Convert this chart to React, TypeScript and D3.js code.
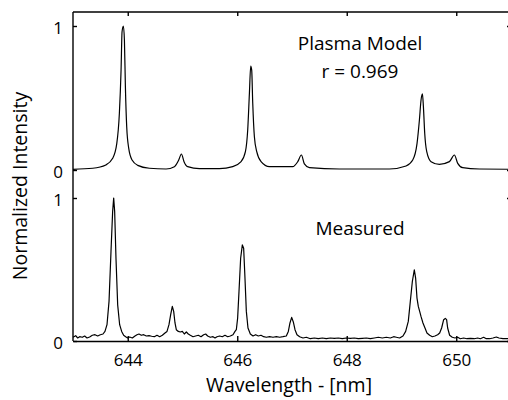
import React, { useEffect, useRef } from 'react';
import * as d3 from 'd3';

// plasma model spectrum (wavelength nm, normalized intensity)
const modelWl = [
  643.0, 643.36, 643.6, 643.725, 643.8, 643.847, 643.878, 643.896, 643.92, 643.939,
  643.957, 643.981, 644.018, 644.079, 644.182, 644.395, 644.7, 644.852, 644.931, 644.98,
  645.028, 645.095, 645.309, 645.674, 645.917, 646.07, 646.149, 646.191, 646.222, 646.246,
  646.264, 646.283, 646.313, 646.356, 646.435, 646.587, 647.013, 647.105, 647.172, 647.226,
  647.318, 647.866, 648.779, 649.083, 649.205, 649.284, 649.327, 649.357, 649.382, 649.4,
  649.424, 649.461, 649.54, 649.692, 649.875, 649.966, 650.027, 650.118, 650.423, 651.0,
];
const modelI = [
  0.005, 0.012, 0.035, 0.081, 0.185, 0.394, 0.694, 0.96, 1.0, 0.903,
  0.579, 0.3, 0.15, 0.069, 0.032, 0.012, 0.007, 0.023, 0.069, 0.111,
  0.058, 0.023, 0.009, 0.009, 0.023, 0.058, 0.127, 0.278, 0.532, 0.722,
  0.694, 0.463, 0.231, 0.127, 0.058, 0.023, 0.023, 0.058, 0.104, 0.042,
  0.016, 0.007, 0.007, 0.028, 0.069, 0.185, 0.347, 0.486, 0.528, 0.44,
  0.255, 0.127, 0.058, 0.039, 0.058, 0.104, 0.046, 0.016, 0.007, 0.005,
];

// measured spectrum
const measWl = [
  643.0, 643.049, 643.085, 643.122, 643.17, 643.213, 643.256, 643.304, 643.353, 643.402,
  643.451, 643.499, 643.548, 643.584, 643.621, 643.658, 643.694, 643.724, 643.743, 643.761,
  643.785, 643.816, 643.852, 643.889, 643.925, 643.962, 643.998, 644.035, 644.084, 644.132,
  644.169, 644.205, 644.248, 644.291, 644.339, 644.388, 644.437, 644.486, 644.534, 644.583,
  644.632, 644.68, 644.717, 644.753, 644.784, 644.814, 644.839, 644.863, 644.887, 644.924,
  644.96, 644.997, 645.033, 645.07, 645.106, 645.143, 645.192, 645.24, 645.289, 645.338,
  645.386, 645.423, 645.46, 645.508, 645.557, 645.594, 645.63, 645.679, 645.727, 645.776,
  645.825, 645.873, 645.922, 645.959, 645.983, 646.007, 646.032, 646.062, 646.093, 646.117,
  646.141, 646.166, 646.196, 646.239, 646.288, 646.336, 646.385, 646.434, 646.482, 646.531,
  646.592, 646.653, 646.714, 646.775, 646.835, 646.896, 646.933, 646.963, 646.994, 647.024,
  647.055, 647.091, 647.14, 647.201, 647.262, 647.335, 647.408, 647.481, 647.554, 647.627,
  647.7, 647.773, 647.846, 647.919, 647.992, 648.065, 648.138, 648.211, 648.284, 648.357,
  648.431, 648.504, 648.577, 648.65, 648.723, 648.796, 648.857, 648.905, 648.966, 649.027,
  649.076, 649.124, 649.161, 649.198, 649.234, 649.258, 649.283, 649.307, 649.332, 649.356,
  649.392, 649.429, 649.465, 649.514, 649.563, 649.611, 649.66, 649.697, 649.733, 649.77,
  649.8, 649.824, 649.843, 649.879, 649.928, 649.976, 650.026, 650.074, 650.135, 650.196,
  650.257, 650.33, 650.391, 650.44, 650.5, 650.549, 650.61, 650.671, 650.732, 650.78,
  650.853, 650.945,
];
const measI = [
  0.026, 0.037, 0.021, 0.03, 0.026, 0.035, 0.021, 0.028, 0.04, 0.044,
  0.035, 0.044, 0.049, 0.067, 0.114, 0.277, 0.626, 0.905, 1.0, 0.905,
  0.579, 0.253, 0.114, 0.067, 0.04, 0.03, 0.021, 0.028, 0.021, 0.035,
  0.044, 0.049, 0.04, 0.044, 0.035, 0.037, 0.033, 0.03, 0.04, 0.03,
  0.04, 0.056, 0.067, 0.114, 0.184, 0.242, 0.207, 0.126, 0.079, 0.067,
  0.063, 0.067, 0.049, 0.063, 0.049, 0.04, 0.03, 0.035, 0.04, 0.03,
  0.044, 0.049, 0.035, 0.026, 0.03, 0.021, 0.03, 0.035, 0.03, 0.04,
  0.03, 0.035, 0.044, 0.067, 0.079, 0.16, 0.347, 0.579, 0.672, 0.649,
  0.44, 0.207, 0.091, 0.049, 0.035, 0.044, 0.035, 0.04, 0.03, 0.026,
  0.03, 0.026, 0.03, 0.026, 0.03, 0.035, 0.067, 0.126, 0.165, 0.133,
  0.079, 0.044, 0.03, 0.021, 0.026, 0.016, 0.021, 0.016, 0.021, 0.016,
  0.021, 0.019, 0.021, 0.016, 0.021, 0.019, 0.021, 0.016, 0.019, 0.021,
  0.016, 0.021, 0.026, 0.021, 0.026, 0.021, 0.03, 0.026, 0.021, 0.035,
  0.067, 0.137, 0.277, 0.416, 0.498, 0.44, 0.3, 0.242, 0.207, 0.172,
  0.126, 0.091, 0.056, 0.04, 0.03, 0.035, 0.044, 0.056, 0.091, 0.149,
  0.158, 0.149, 0.091, 0.04, 0.026, 0.021, 0.026, 0.016, 0.021, 0.016,
  0.019, 0.016, 0.021, 0.016, 0.026, 0.016, 0.016, 0.021, 0.028, 0.021,
  0.016, 0.016,
];

const xTicks = [644, 646, 648, 650];
const yTicks = [0, 1];
const font = '"Open Sans", sans-serif';

const SpectraChart = () => {
  const svgRef = useRef(null);

  useEffect(() => {
    if (!svgRef.current) return;
    const svg = d3.select(svgRef.current);
    svg.selectAll('*').remove();

    const left = 73, right = 511, top = 12, bottom = 341;

    const x = d3.scaleLinear().domain([643, 651]).range([left, right]);
    const yTop = d3.scaleLinear().domain([0, 1]).range([170, 26]);
    const yBot = d3.scaleLinear().domain([0, 1]).range([bottom, 198]);

    // frame lines
    const frame = svg.append('g').attr('stroke', '#000').attr('stroke-width', 1.4);
    frame.append('line').attr('x1', left).attr('x2', left).attr('y1', top).attr('y2', bottom);
    frame.append('line').attr('x1', left).attr('x2', right).attr('y1', top).attr('y2', top);
    frame.append('line').attr('x1', right).attr('x2', right).attr('y1', top).attr('y2', bottom);

    // bottom axis with labels
    const gx = svg.append('g')
      .attr('transform', `translate(0,${bottom})`)
      .call(d3.axisBottom(x).tickValues(xTicks).tickSizeInner(-5).tickSizeOuter(0)
        .tickPadding(13).tickFormat(d3.format('d')));
    gx.select('.domain').attr('stroke-width', 1.4);

    // top ticks, no labels
    const gxt = svg.append('g')
      .attr('transform', `translate(0,${top})`)
      .call(d3.axisTop(x).tickValues(xTicks).tickSizeInner(-4).tickSizeOuter(0).tickFormat(() => ''));
    gxt.select('.domain').remove();

    [yTop, yBot].forEach(y => {
      const gl = svg.append('g')
        .attr('transform', `translate(${left},0)`)
        .call(d3.axisLeft(y).tickValues(yTicks).tickSizeInner(-4).tickPadding(10).tickFormat(d3.format('d')));
      gl.select('.domain').remove();
      gl.selectAll('.tick text').attr('dy', '0.42em');
      const gr = svg.append('g')
        .attr('transform', `translate(${right},0)`)
        .call(d3.axisRight(y).tickValues(yTicks).tickSizeInner(-4).tickFormat(() => ''));
      gr.select('.domain').remove();
    });

    svg.selectAll('.tick line').attr('stroke-width', 1.4);
    svg.selectAll('.tick text')
      .attr('font-family', font)
      .attr('font-size', 17)
      .attr('fill', '#000');

    const modelLine = d3.line<number>()
      .x((_, i) => x(modelWl[i]))
      .y(d => yTop(d))
      .curve(d3.curveMonotoneX);
    svg.append('path')
      .attr('d', modelLine(modelI))
      .attr('fill', 'none')
      .attr('stroke', '#000')
      .attr('stroke-width', 1.2);

    const measLine = d3.line<number>()
      .x((_, i) => x(measWl[i]))
      .y(d => yBot(d));
    svg.append('path')
      .attr('d', measLine(measI))
      .attr('fill', 'none')
      .attr('stroke', '#000')
      .attr('stroke-width', 1.2)
      .attr('stroke-linejoin', 'round');

    const label = (txt, tx, ty, size) => svg.append('text')
      .attr('x', tx).attr('y', ty)
      .attr('text-anchor', 'middle')
      .attr('font-family', font)
      .attr('font-size', size)
      .attr('fill', '#000')
      .text(txt);

    label('Plasma Model', 360, 50, 19);
    label('r = 0.969', 360, 78, 19);
    label('Measured', 360, 235, 19);
    label('Wavelength - [nm]', 289, 392, 19.5);
    label('Normalized Intensity', 0, 0, 19.5)
      .attr('transform', 'translate(27,186) rotate(-90)');
  }, []);

  return (
    <div style={{ position: 'absolute', left: 0, top: 0 }}>
      <svg ref={svgRef} width={508} height={400} style={{ display: 'block', background: '#fff' }} />
    </div>
  );
};

export default SpectraChart;
